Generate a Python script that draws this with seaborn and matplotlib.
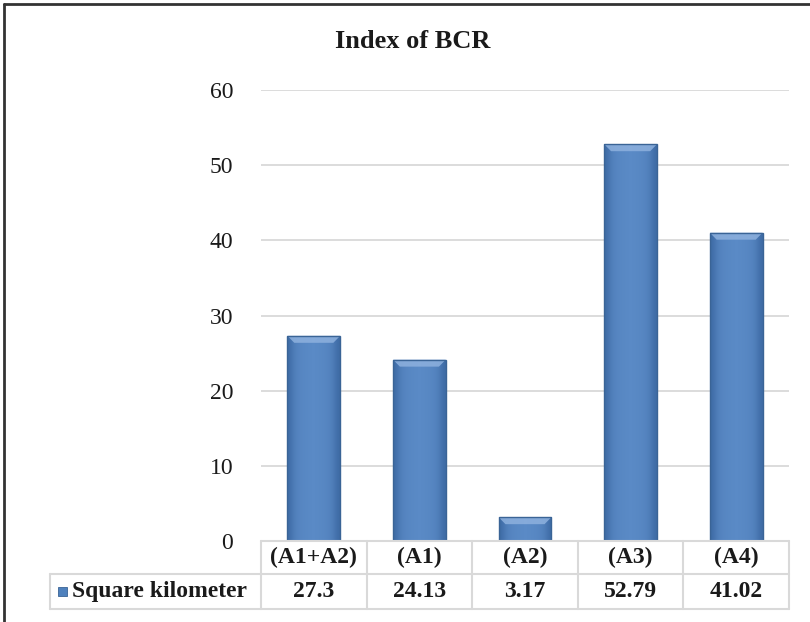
import matplotlib
matplotlib.use("Agg")
import matplotlib.pyplot as plt
import matplotlib.transforms as mtransforms
from matplotlib.lines import Line2D
from matplotlib.patches import Rectangle, Polygon
from matplotlib.colors import LinearSegmentedColormap
import numpy as np
import seaborn as sns
import pandas as pd

categories = ["(A1+A2)", "(A1)", "(A2)", "(A3)", "(A4)"]
values = [27.3, 24.13, 3.17, 52.79, 41.02]
value_labels = ["27.3", "24.13", "3.17", "52.79", "41.02"]
series_name = "Square kilometer"
title = "Index of BCR"
yticks = [0, 10, 20, 30, 40, 50, 60]

sns.set_theme(style="white")
plt.rcParams['font.family'] = ['Liberation Serif', 'DejaVu Serif']

W, H = 810, 622
fig = plt.figure(figsize=(W / 100, H / 100), dpi=100)

def fx(px):
    return px / W

def fy(py):
    return 1 - py / H

left, right, top, bottom = 261, 789, 90, 541
ax = fig.add_axes([fx(left), fy(bottom), fx(right) - fx(left), fy(top) - fy(bottom)])

df = pd.DataFrame({"cat": categories, "val": values})
bar_color = "#4f81bd"
sns.barplot(data=df, x="cat", y="val", color=bar_color, width=0.5,
            edgecolor="#3a6496", linewidth=1.0, saturation=1, ax=ax, zorder=3)

ax.set_ylim(0, 60)
ax.set_xlim(-0.5, len(categories) - 0.5)

# subtle bevel shading on each bar produced by seaborn
grad = np.array([0.0, 0.55, 0.8, 0.9, 0.95, 1.0, 1.0, 0.95, 0.9, 0.8, 0.55, 0.0]).reshape(1, -1)
cmap = LinearSegmentedColormap.from_list("bev", ["#3f6ca6", "#5a8ac6"])
ypx = 60 / (bottom - top)
for p in ax.patches:
    x0, w, h = p.get_x(), p.get_width(), p.get_height()
    im = ax.imshow(grad, cmap=cmap, aspect="auto", extent=[x0, x0 + w, 0, h],
                   zorder=3.5, interpolation="bicubic")
    im.set_clip_path(p)
    b = 7 * ypx
    bw = w * 0.13
    top_poly = Polygon([[x0, h], [x0 + w, h], [x0 + w - bw, h - b], [x0 + bw, h - b]],
                       closed=True, facecolor="#8eb1de", edgecolor="none", zorder=3.6, alpha=0.85)
    ax.add_patch(top_poly)
    p.set_zorder(3.7)
    p.set_facecolor("none")

ax.set_yticks(yticks)
ax.set_yticklabels([str(t) for t in yticks], fontsize=17, color="#1a1a1a")
ax.tick_params(axis="y", length=0, pad=20)
ax.set_xticks([])
ax.set_xlabel("")
ax.set_ylabel("")
ax.yaxis.grid(True, color="#d9d9d9", linewidth=1.3)
ax.set_axisbelow(True)
for s in ax.spines.values():
    s.set_visible(False)

fig.text(fx(413), fy(42), title, ha="center", va="center", fontsize=19,
         fontweight="bold", color="#1a1a1a")

trans = mtransforms.blended_transform_factory(ax.transData, fig.transFigure)
row1_top, row_mid, row2_bot = 541, 574, 609
lc = "#d9d9d9"
lw = 1.5
n = len(categories)
fig.add_artist(Line2D([-0.5, n - 0.5], [fy(row1_top)] * 2, transform=trans, color=lc, lw=lw))
fig.add_artist(Line2D([fx(50), fx(right)], [fy(row_mid)] * 2, transform=fig.transFigure, color=lc, lw=lw))
fig.add_artist(Line2D([fx(50), fx(right)], [fy(row2_bot)] * 2, transform=fig.transFigure, color=lc, lw=lw))
for i in range(n + 1):
    fig.add_artist(Line2D([i - 0.5, i - 0.5], [fy(row1_top), fy(row2_bot)], transform=trans, color=lc, lw=lw))
fig.add_artist(Line2D([fx(50), fx(50)], [fy(row_mid), fy(row2_bot)], transform=fig.transFigure, color=lc, lw=lw))

for i, (c, v) in enumerate(zip(categories, value_labels)):
    fig.text(i, fy((row1_top + row_mid) / 2), c, transform=trans, ha="center", va="center",
             fontsize=17, fontweight="bold", color="#1a1a1a")
    fig.text(i, fy((row_mid + row2_bot) / 2), v, transform=trans, ha="center", va="center",
             fontsize=17, fontweight="bold", color="#1a1a1a")

fig.add_artist(Rectangle((fx(58), fy(596)), fx(9), 9 / H, transform=fig.transFigure,
                         facecolor=bar_color, edgecolor="#3a6496", lw=0.6))
fig.text(fx(72), fy(591.5), series_name, ha="left", va="center", fontsize=17,
         fontweight="bold", color="#1a1a1a")

fig.add_artist(Line2D([fx(4), fx(4)], [0, fy(4)], transform=fig.transFigure, color="#333333", lw=2))
fig.add_artist(Line2D([fx(4), 1], [fy(4), fy(4)], transform=fig.transFigure, color="#333333", lw=2))

fig.savefig("out.png", dpi=100, facecolor="white")
